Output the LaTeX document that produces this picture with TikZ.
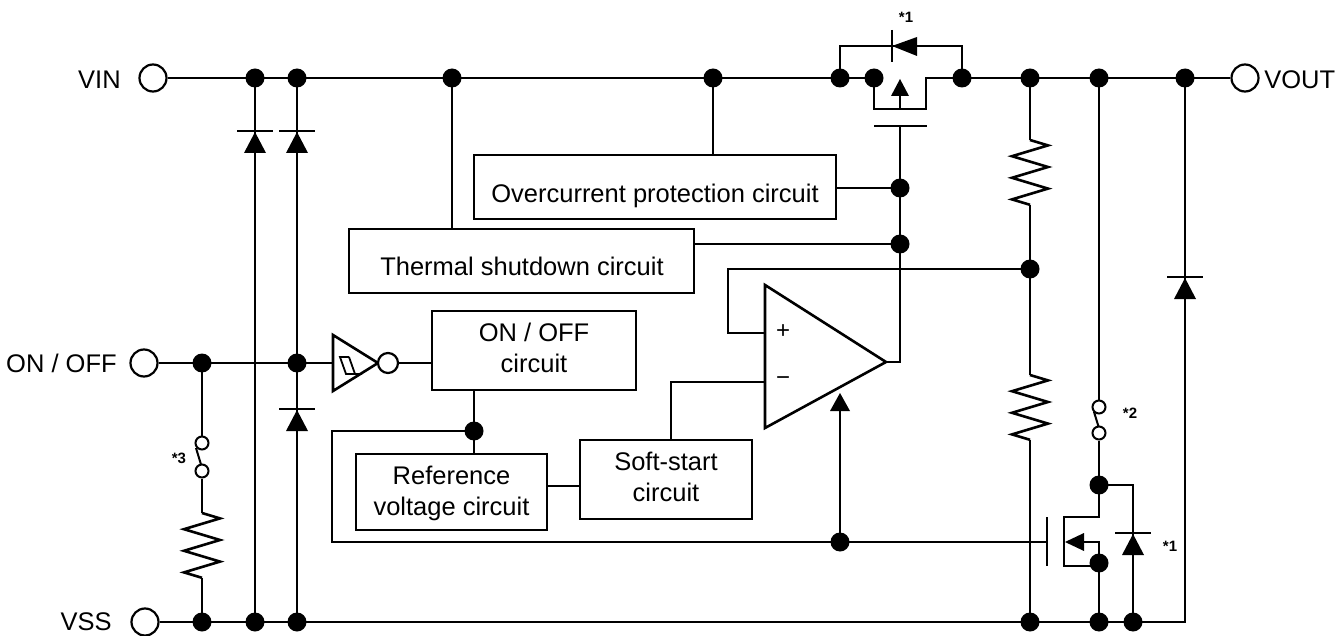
\documentclass[tikz,border=0pt]{standalone}
\usepackage{fontspec}
\setmainfont{Liberation Sans}
\begin{document}
\begin{tikzpicture}[x=1pt,y=-1pt,line width=2.6pt,
 dot/.style={circle,fill,inner sep=0pt,minimum size=19pt},
 term/.style={circle,draw,fill=white,inner sep=0pt,minimum size=27pt,line width=2.2pt},
 blk/.style={draw,rectangle,inner sep=0pt,line width=2.4pt},
 txt/.style={inner sep=0pt,anchor=base,font=\fontsize{25.5}{30}\selectfont},
 lbl/.style={inner sep=0pt,font=\fontsize{25.5}{30}\selectfont},
 star/.style={inner sep=0pt,font=\bfseries\fontsize{15}{17}\selectfont},
 sw/.style={circle,draw,fill=white,inner sep=0pt,minimum size=13pt,line width=2pt},
 bub/.style={circle,draw,fill=white,inner sep=0pt,minimum size=20pt,line width=2.2pt},
 sign/.style={inner sep=0pt,font=\fontsize{24}{26}\selectfont},
 dup/.pic={\fill (0,1) -- (-11,22) -- (11,22) -- cycle; \draw (-18,0) -- (18,0);},
 zres/.pic={\draw (0,0) -- ++(18,5.4) -- ++(-36,10.8) -- ++(36,10.8) -- ++(-36,10.8) -- ++(36,10.8) -- ++(-36,10.8) -- ++(18,5.4);}]
\useasboundingbox (0,0) rectangle (1338,636);
\fill[white] (0,0) rectangle (1338,636);

% junction coordinates
\coordinate (t255) at (255,78);
\coordinate (t297) at (297,78);
\coordinate (t452) at (452,78);
\coordinate (t713) at (713,78);
\coordinate (t840) at (840,78);
\coordinate (t874) at (874,78);
\coordinate (t962) at (962,78);
\coordinate (t1030) at (1030,78);
\coordinate (t1099) at (1099,78);
\coordinate (t1185) at (1185,78);
\coordinate (b202) at (202,622);
\coordinate (b255) at (255,622);
\coordinate (b297) at (297,622);
\coordinate (b1030) at (1030,622);
\coordinate (b1099) at (1099,622);
\coordinate (b1133) at (1133,622);
\coordinate (b1185) at (1185,622);
\coordinate (o202) at (202,363);
\coordinate (o297) at (297,363);
\coordinate (g188) at (900,188);
\coordinate (g244) at (900,244);
\coordinate (r269) at (1030,269);
\coordinate (j431) at (474,431);
\coordinate (j542) at (840,542);
\coordinate (n485) at (1099,485);
\coordinate (n563) at (1099,563);

% terminals
\node[term] (vin) at (153,78) {};
\node[term] (vout) at (1245,78) {};
\node[term] (onoff) at (144,363) {};
\node[term] (vss) at (145,622) {};
\node[lbl,anchor=base east] (vinl) at (122,89) {VIN};
\node[lbl,anchor=base west] (voutl) at (1263,89) {VOUT};
\node[lbl,anchor=base east] (onoffl) at (118,372) {ON / OFF};
\node[lbl,anchor=base east] (vssl) at (113,630) {VSS};

% blocks
\node[blk,minimum width=362pt,minimum height=64pt] (ocp) at (655,187) {};
\node[txt] (ocpt) at (655,203) {Overcurrent protection circuit};
\node[blk,minimum width=345pt,minimum height=64pt] (tsd) at (521.5,261) {};
\node[txt] (tsdt) at (522,276) {Thermal shutdown circuit};
\node[blk,minimum width=204pt,minimum height=79pt] (onc) at (534,350.5) {};
\node[txt] (onct1) at (534,341) {ON / OFF};
\node[txt] (onct2) at (534,372) {circuit};
\node[blk,minimum width=191pt,minimum height=76pt] (ref) at (451.5,492) {};
\node[txt] (reft1) at (451.5,484) {Reference};
\node[txt] (reft2) at (451.5,515) {voltage circuit};
\node[blk,minimum width=172pt,minimum height=79pt] (ss) at (666,479.5) {};
\node[txt] (sst1) at (666,470) {Soft-start};
\node[txt] (sst2) at (666,501) {circuit};

% top rail and PMOS
\draw (vin.east) -- (t874);
\draw (t874) -- (874,109) -- (926,109) -- (926,78) -- (t962) -- (vout.west);
\fill (900,79) -- (891,96) -- (909,96) -- cycle;
\draw (900,96) -- (900,109);
\draw (874,126) -- (927,126);
\draw (t840) -- (840,46) -- (962,46) -- (t962);
\fill (892,46) -- (917,37) -- (917,56) -- cycle;
\draw (892,30) -- (892,62);
\node[star] at (906,17) {*1};

% bottom rail
\draw (vss.east) -- (b1185) -- (t1185);
\pic at (1185,277) {dup};

% left protection diodes
\draw (t255) -- (b255);
\draw (t297) -- (b297);
\pic at (255,131) {dup};
\pic at (297,131) {dup};
\pic at (297,409) {dup};

% ON/OFF input and inverter
\draw (onoff.east) -- (333,363);
\draw (333,335) -- (378,363) -- (333,391) -- cycle;
\draw[line width=1.8pt] (349,357) -- (340,357) -- (346,374) -- (362,374);
\draw[line width=1.8pt] (349,357) -- (355,374);
\node[bub] (inv) at (388,363) {};
\draw (inv.east) -- (onc.west |- inv.east);

% pull-down with switch *3
\draw (o202) -- (202,436.5);
\node[sw] (s3a) at (202,443) {};
\node[sw] (s3b) at (202,471) {};
\draw[line width=2pt] (196,448) -- (201,464.5);
\draw (s3b.south) -- (202,513);
\pic at (202,513) {zres};
\draw (202,578) -- (b202);
\node[star] at (179,458) {*3};

% feeds to protection blocks
\draw (t452) -- (t452 |- tsd.north);
\draw (t713) -- (t713 |- ocp.north);
\draw (ocp.east |- g188) -- (g188);
\draw (tsd.east |- g244) -- (g244);

% op-amp
\draw (765,285) -- (886,362) -- (765,428) -- cycle;
\node[sign] at (783,332) {+};
\node[sign] at (783,381) {−};
\draw (886,362) -- (900,362) -- (900,126);
\draw (765,333) -- (728,333) -- (728,269) -- (r269);
\draw (765,382) -- (671,382) -- (671,440);
\fill (840,393) -- (830,411) -- (850,411) -- cycle;
\draw (840,410) -- (j542);

% control blocks wiring
\draw (onc.south -| j431) -- (j431) -- (j431 |- ref.north);
\draw (547,486) -- (580,486);
\draw (j431) -- (332,431) -- (332,542) -- (1047,542);

% divider resistors
\draw (t1030) -- (1030,140);
\pic at (1030,140) {zres};
\draw (1030,205) -- (1030,375);
\pic at (1030,375) {zres};
\draw (1030,440) -- (b1030);

% switch *2 and NMOS discharge
\draw (t1099) -- (1099,400.5);
\node[sw] (s2a) at (1099,407) {};
\node[sw] (s2b) at (1099,433) {};
\draw[line width=2pt] (1094,412) -- (1098.5,426.5);
\draw (s2b.south) -- (n485);
\node[star] at (1130,413) {*2};
\draw (n485) -- (1099,517) -- (1064,517) -- (1064,566) -- (1099,566);
\draw (1047,517) -- (1047,566);
\fill (1065,542) -- (1084,533) -- (1084,551) -- cycle;
\draw (1083,542) -- (1099,542) -- (n563) -- (b1099);
\draw (n485) -- (1133,485) -- (b1133);
\pic at (1133,533) {dup};
\node[star] at (1170,546) {*1};

% junction dots
\foreach \p in {t255,t297,t452,t713,t840,t874,t962,t1030,t1099,t1185,
  b202,b255,b297,b1030,b1099,b1133,o202,o297,g188,g244,r269,j431,j542,n485,n563}
  \node[dot] at (\p) {};
\end{tikzpicture}
\end{document}
